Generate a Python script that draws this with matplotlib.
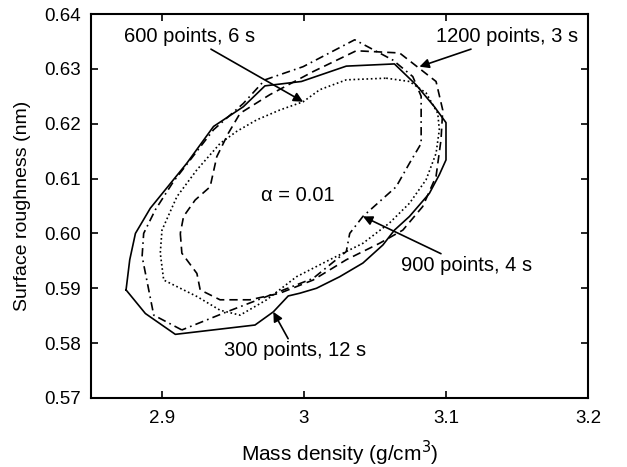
import matplotlib
matplotlib.use('Agg')
import matplotlib.pyplot as plt

plt.rcParams['font.family'] = ['Liberation Sans', 'DejaVu Sans']

# 300 points, 12 s (solid)
x300 = [2.8747, 2.8773, 2.8813, 2.8918, 2.9175, 2.9363, 2.9573, 2.9725, 2.9982, 3.0298,
        3.0637, 3.0789, 3.0918, 3.1000, 3.1000, 3.0953, 3.0883, 3.0743, 3.0637, 3.0556,
        3.0415, 3.0251, 3.0088, 2.9971, 2.9889, 2.9784, 2.9655, 2.9094, 2.8883, 2.8747]
y300 = [0.5897, 0.5952, 0.6000, 0.6046, 0.6128, 0.6195, 0.6231, 0.6269, 0.6277, 0.6305,
        0.6309, 0.6271, 0.6231, 0.6202, 0.6134, 0.6107, 0.6073, 0.6031, 0.6006, 0.5979,
        0.5946, 0.5921, 0.5900, 0.5891, 0.5886, 0.5857, 0.5833, 0.5816, 0.5854, 0.5897]

# 900 points, 4 s (dash-dot)
x900 = [2.9140, 2.8942, 2.8860, 2.8871, 2.8953, 2.9082, 2.9199, 2.9363, 2.9573, 2.9725,
        2.9994, 3.0357, 3.0626, 3.0766, 3.0825, 3.0825, 3.0743, 3.0649, 3.0415, 3.0322,
        3.0298, 3.0064, 2.9737, 2.9456, 2.9140]
y900 = [0.5824, 0.5851, 0.5958, 0.6000, 0.6043, 0.6095, 0.6134, 0.6189, 0.6237, 0.6280,
        0.6304, 0.6353, 0.6316, 0.6286, 0.6250, 0.6164, 0.6128, 0.6085, 0.6031, 0.6000,
        0.5967, 0.5918, 0.5885, 0.5857, 0.5824]

# 1200 points, 3 s (dashed)
x1200 = [2.9129, 2.9140, 2.9246, 2.9269, 2.9409, 2.9620, 2.9830, 3.0064, 3.0298, 3.0532,
         3.0696, 3.0836, 3.0930, 3.0965, 3.0977, 3.0930, 3.0673, 3.0368, 3.0064, 2.9760,
         2.9550, 2.9468, 2.9386, 2.9339, 2.9234, 2.9152, 2.9129]
y1200 = [0.6000, 0.5964, 0.5927, 0.5897, 0.5879, 0.5879, 0.5891, 0.5915, 0.5952, 0.5982,
         0.6006, 0.6049, 0.6104, 0.6171, 0.6225, 0.6277, 0.6329, 0.6333, 0.6295, 0.6253,
         0.6219, 0.6183, 0.6140, 0.6085, 0.6061, 0.6031, 0.6000]

# 600 points, 6 s (dotted)
x600 = [3.0579, 3.0743, 3.0860, 3.0942, 3.0953, 3.0930, 3.0860, 3.0743, 3.0602, 3.0415,
        3.0181, 2.9947, 2.9737, 2.9550, 2.9409, 2.9246, 2.9012, 2.8988, 2.9000, 2.9105,
        2.9246, 2.9409, 2.9526, 2.9667, 2.9830, 2.9994, 3.0111, 3.0298, 3.0579]
y600 = [0.6283, 0.6277, 0.6256, 0.6219, 0.6189, 0.6146, 0.6098, 0.6055, 0.6019, 0.5982,
        0.5952, 0.5921, 0.5879, 0.5851, 0.5860, 0.5885, 0.5915, 0.5964, 0.6006, 0.6067,
        0.6116, 0.6164, 0.6186, 0.6207, 0.6225, 0.6240, 0.6262, 0.6280, 0.6283]

fig = plt.figure(figsize=(6.27, 4.67), dpi=100)
ax = fig.add_axes([0.1451, 0.1478, 0.7927, 0.8222])

lw = 1.2
ax.plot(x300, y300, color='k', lw=lw, linestyle='-')
ax.plot(x900, y900, color='k', lw=lw, linestyle=(0, (5, 2.5, 1, 2.5)))
ax.plot(x1200, y1200, color='k', lw=lw, linestyle=(0, (5, 3)))
ax.plot(x600, y600, color='k', lw=lw, linestyle=(0, (1, 1.6)))

fs = 14.5
arrow = dict(arrowstyle='-|>', color='k', lw=1.2, mutation_scale=14, shrinkA=0, shrinkB=0)
ax.annotate('600 points, 6 s', xy=(2.9994, 0.6240), xytext=(2.9655, 0.6341),
            arrowprops=arrow, fontsize=fs, ha='right', va='bottom')
ax.annotate('1200 points, 3 s', xy=(3.0813, 0.6304), xytext=(3.0930, 0.6341),
            arrowprops=arrow, fontsize=fs, ha='left', va='bottom')
ax.annotate('900 points, 4 s', xy=(3.0415, 0.6031), xytext=(3.0684, 0.5958),
            arrowprops=arrow, fontsize=fs, ha='left', va='top')
ax.annotate('300 points, 12 s', xy=(2.9784, 0.5857), xytext=(2.9936, 0.5803),
            arrowprops=arrow, fontsize=fs, ha='center', va='top')
ax.text(2.9960, 0.6070, '\u03b1 = 0.01', fontsize=fs, ha='center', va='center')

ax.set_xlim(2.85, 3.2)
ax.set_ylim(0.57, 0.64)
ax.set_xticks([2.9, 3.0, 3.1, 3.2])
ax.set_xticklabels(['2.9', '3', '3.1', '3.2'])
ax.set_yticks([0.57, 0.58, 0.59, 0.60, 0.61, 0.62, 0.63, 0.64])
ax.set_yticklabels(['0.57', '0.58', '0.59', '0.60', '0.61', '0.62', '0.63', '0.64'])
ax.tick_params(direction='in', top=True, right=True, labelsize=13.5, length=5, width=1.2)
ax.tick_params(axis='x', pad=9)
ax.tick_params(axis='y', pad=7)
for s in ax.spines.values():
    s.set_linewidth(1.5)

ax.set_xlabel('Mass density (g/cm$^3$)', fontsize=15, labelpad=8)
ax.set_ylabel('Surface roughness (nm)', fontsize=14, labelpad=10)

fig.savefig('out.png', dpi=100)
